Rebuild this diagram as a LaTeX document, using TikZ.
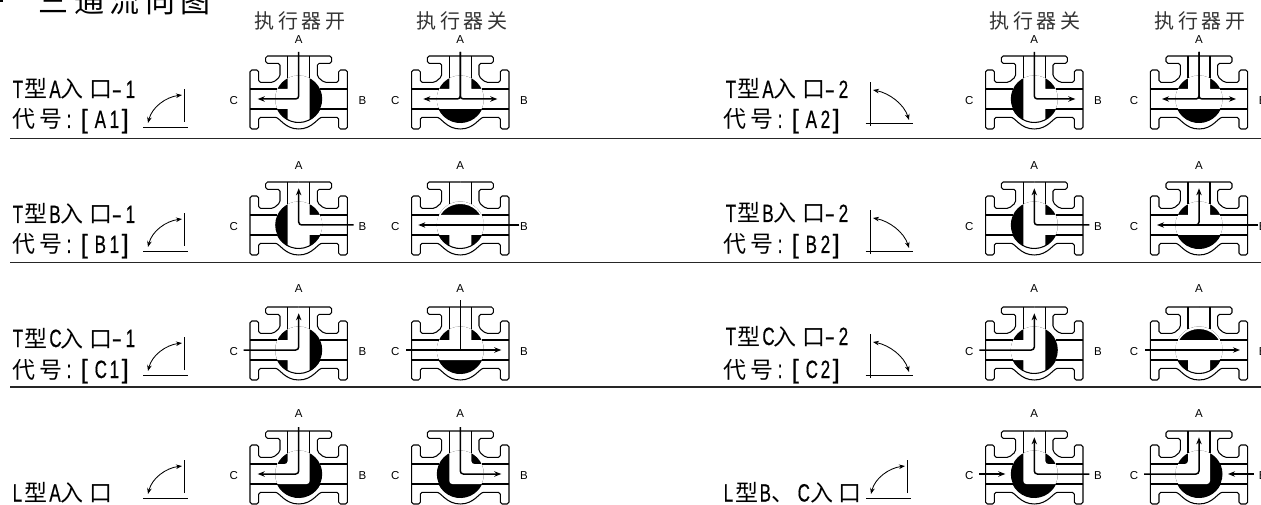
\documentclass[tikz,border=0pt]{standalone}
\usepackage{fontspec}
\usepackage{graphicx}
\usetikzlibrary{arrows.meta}
\setmainfont{Liberation Sans}
\newfontfamily\cjk{Noto Sans CJK SC}
\newfontfamily\lat[FakeStretch=0.68,FakeBold=0.5]{Liberation Sans}
\newcommand{\gl}[2]{\rlap{\kern#1pt #2}}
\newcommand{\lt}[1]{{\lat\fontsize{25}{25}\selectfont #1}}
\newcommand{\br}[1]{\scalebox{1.5}[1.05]{\lt{#1}}}
\tikzset{
  vline/.style={line width=1.05pt,line join=round,black},
  flow/.style={line width=1.5pt,rounded corners=3pt,black},
  tip/.style={-{Stealth[length=7pt,width=5.4pt]}},
  tiptwo/.style={{Stealth[length=6pt,width=4.6pt]}-{Stealth[length=6pt,width=4.6pt]}},
  port/.style={font=\fontsize{11.5}{12}\selectfont,inner sep=0pt},
  lbl/.style={anchor=base west,inner sep=0pt,font=\fontsize{23}{23}\selectfont\cjk},
  hdr/.style={anchor=base west,inner sep=0pt,text=black!80,font=\fontsize{20}{20}\selectfont\cjk},
  rule/.style={line width=1.7pt,black!85},
  thin/.style={line width=0.85pt,black},
  dial/.style={line width=0.85pt,black,tiptwo}
}
% ball channel states
\newcommand{\stR}{(-11,-30) rectangle (11,30) (-30,-10) rectangle (11,10)}
\newcommand{\stL}{(-11,-30) rectangle (11,30) (-11,-10) rectangle (30,10)}
\newcommand{\stT}{(-30,-10) rectangle (30,10) (-11,0) rectangle (11,30)}
\newcommand{\stS}{(-30,-10) rectangle (30,10) (-11,-30) rectangle (11,0);
  \begin{scope}\clip (-30,0) rectangle (30,30);
  \fill[white,even odd rule] (-30,0) rectangle (30,30) (0,0) ellipse [x radius=22.5,y radius=21];
  \end{scope}\path (0,0)}
\newcommand{\stAC}{(-11,30) -- (11,30) -- (11,-10) -- (-30,-10) -- (-30,10) -- (-11,10) -- cycle}
\newcommand{\stAB}{(11,30) -- (-11,30) -- (-11,-10) -- (30,-10) -- (30,10) -- (11,10) -- cycle}
\newcommand{\halfbody}{%
  \draw[vline,rounded corners=1.8pt] (0,43) -- (33,43) -- (33,35.7) -- (18.7,35.7) -- (18.7,22.3) -- (25.3,16.7) -- (40,16.7) -- (40,29) -- (48.7,29) -- (48.7,-30) -- (40,-30) -- (40,-18.3) -- (25.3,-18.3) .. controls (19,-18.3) and (14,-30) .. (0,-30);
  \draw[vline] (11,43) -- (11,20.8) (48.7,10) -- (21.3,10) (48.7,-10) -- (21.3,-10);
}
% #1 name #2 cx #3 cy #4 A offset #5 state #6 arrows
\newcommand{\valve}[6]{%
  \begin{scope}[shift={(#2,-#3)}]
    \begin{scope}
      \clip (0,0) circle (23.5);
      \fill[black] (-30,-30) rectangle (30,30);
      \fill[white,rounded corners=3pt] #5;
    \end{scope}
    \halfbody
    \begin{scope}[xscale=-1]\halfbody\end{scope}
    \draw[vline] (-21.3,-10) arc[start angle=205.2,end angle=334.8,radius=23.5];
    #6
    \node[port] (#1A) at (0,#4) {A};
    \node[port] (#1B) at (63.7,-1.5) {B};
    \node[port] (#1C) at (-65,-1.5) {C};
  \end{scope}}
\newcommand{\aAC}{\draw[flow,tip] (0,47) -- (0,0) -- (-41,0);}
\newcommand{\aAB}{\draw[flow,tip] (0,47) -- (0,0) -- (41,0);}
\newcommand{\aT}{\draw[flow,tip] (0,47) -- (0,0) -- (37,0); \draw[flow,tip] (0,47) -- (0,0) -- (-37,0);}
\newcommand{\aBA}{\draw[flow,tip] (55,0) -- (0,0) -- (0,36.7);}
\newcommand{\aCA}{\draw[flow,tip] (-55,0) -- (0,0) -- (0,36.7);}
\newcommand{\aBC}{\draw[flow,tip] (59,0) -- (-42,0);}
\newcommand{\aCB}{\draw[flow,tip] (-54,0) -- (41,0);}
% label lines
\newcommand{\lineone}[5]{\node[lbl] (#1) at (#2,-#3) {\gl{0}{\lt{T}}\gl{11.7}{型}\gl{36.7}{\lt{#4}}\gl{48}{入}\gl{77}{口}\gl{99}{\lt{\scalebox{1.8}[1]{-}}}\gl{113}{\lt{#5}}};}
\newcommand{\linetwo}[5]{\node[lbl] (#1) at (#2,-#3) {\gl{0}{代}\gl{27}{号}\gl{54}{\lt{:}}\gl{68}{\br{[}}\gl{82}{\lt{#4}}\gl{97}{\lt{#5}}\gl{109}{\br{]}}};}
\newcommand{\dialL}[2]{%
  \begin{scope}[shift={(#1,-#2)}]
    \draw[thin] (0,5) -- (0,38) (-41,0) -- (4,0);
    \draw[dial] (-36,4) .. controls (-32,20) and (-18,30) .. (-2,32);
  \end{scope}}
\newcommand{\dialR}[2]{%
  \begin{scope}[shift={(#1,-#2)}]
    \draw[thin] (0,-3) -- (0,41) (-4.5,0) -- (43,0);
    \draw[dial] (3,33) .. controls (19,30) and (34,19) .. (39,3);
  \end{scope}}
\begin{document}
\begin{tikzpicture}[x=1pt,y=1pt]
\useasboundingbox (0,0) rectangle (1261,-505);
\clip (0,0) rectangle (1261,-505);
\fill[white] (0,0) rectangle (1261,-505);
\fill[black] (0,0) rectangle (3,-2);
% title
\node[anchor=base west,inner sep=0pt,font=\fontsize{30}{30}\selectfont\cjk] (title) at (38,-13) {\gl{0}{三}\gl{35.5}{通}\gl{71}{流}\gl{106.5}{向}\gl{142}{图}};
% headers
\node[hdr] (h1) at (254,-29) {\gl{0}{执}\gl{23.5}{行}\gl{47}{器}\gl{70.5}{开}};
\node[hdr] (h2) at (416,-29) {\gl{0}{执}\gl{23.5}{行}\gl{47}{器}\gl{70.5}{关}};
\node[hdr] (h3) at (989,-29) {\gl{0}{执}\gl{23.5}{行}\gl{47}{器}\gl{70.5}{关}};
\node[hdr] (h4) at (1154,-29) {\gl{0}{执}\gl{23.5}{行}\gl{47}{器}\gl{70.5}{开}};
% rules
\draw[rule] (10,-138.5) -- (1261,-138.5);
\draw[rule] (10,-262.5) -- (1261,-262.5);
\draw[rule] (10,-386.7) -- (1261,-386.7);
% labels
\lineone{a1}{12}{98}{A}{1}\linetwo{a2}{12}{128}{A}{1}
\lineone{b1}{12}{223}{B}{1}\linetwo{b2}{12}{253}{B}{1}
\lineone{c1}{12}{347}{C}{1}\linetwo{c2}{12}{378}{C}{1}
\node[lbl] (l1) at (12,-501.5) {\gl{0}{\lt{L}}\gl{11.7}{型}\gl{36.7}{\lt{A}}\gl{48}{入}\gl{77}{口}};
\lineone{d1}{725}{98}{A}{2}\linetwo{d2}{723}{128}{A}{2}
\lineone{e1}{725}{222}{B}{2}\linetwo{e2}{723}{253}{B}{2}
\lineone{f1}{725}{345}{C}{2}\linetwo{f2}{723}{378}{C}{2}
\node[lbl] (l2) at (723,-501.5) {\gl{0}{\lt{L}}\gl{12}{型}\gl{36}{\lt{B}}\gl{48}{、}\gl{74}{\lt{C}}\gl{87}{入}\gl{115}{口}};
% dials
\dialL{184}{127}\dialL{184}{251}\dialL{184}{375}\dialL{907}{498}\dialL{184}{498}
\dialR{870}{123}\dialR{870}{251}\dialR{870}{375}
% valves, left
\valve{v11}{298.7}{99}{59}{\stR}{\aAC}
\valve{v12}{460.3}{99}{59}{\stT}{\aT}
\valve{v21}{298.7}{225}{59}{\stL}{\aBA}
\valve{v22}{460.3}{225}{59}{\stS}{\aBC}
\valve{v31}{298.7}{350}{61}{\stR}{\aCA}
\valve{v32}{460.3}{350}{61}{\stT}{\aCB\draw[flow] (0,50) -- (0,0);}
\valve{v41}{298.7}{474}{60}{\stAC}{\aAC}
\valve{v42}{460.3}{474}{60}{\stAB}{\aAB}
% valves, right
\valve{w11}{1034.3}{99}{59}{\stL}{\aAB}
\valve{w12}{1199}{99}{59}{\stT}{\aT}
\valve{w21}{1034.3}{225}{59}{\stL}{\aBA}
\valve{w22}{1199}{225}{59}{\stT}{\aBC\draw[flow,tip] (-6,0) -- (0,0) -- (0,36.7);}
\valve{w31}{1034.3}{350}{61}{\stR}{\aCA}
\valve{w32}{1199}{350}{61}{\stS}{\aCB}
\valve{w41}{1034.3}{474}{60}{\stAB}{\aBA\draw[flow,tip] (-55,0) -- (-29,0);}
\valve{w42}{1199}{474}{60}{\stAC}{\aCA\draw[flow,tip] (55,0) -- (29,0);}
\end{tikzpicture}
\end{document}
